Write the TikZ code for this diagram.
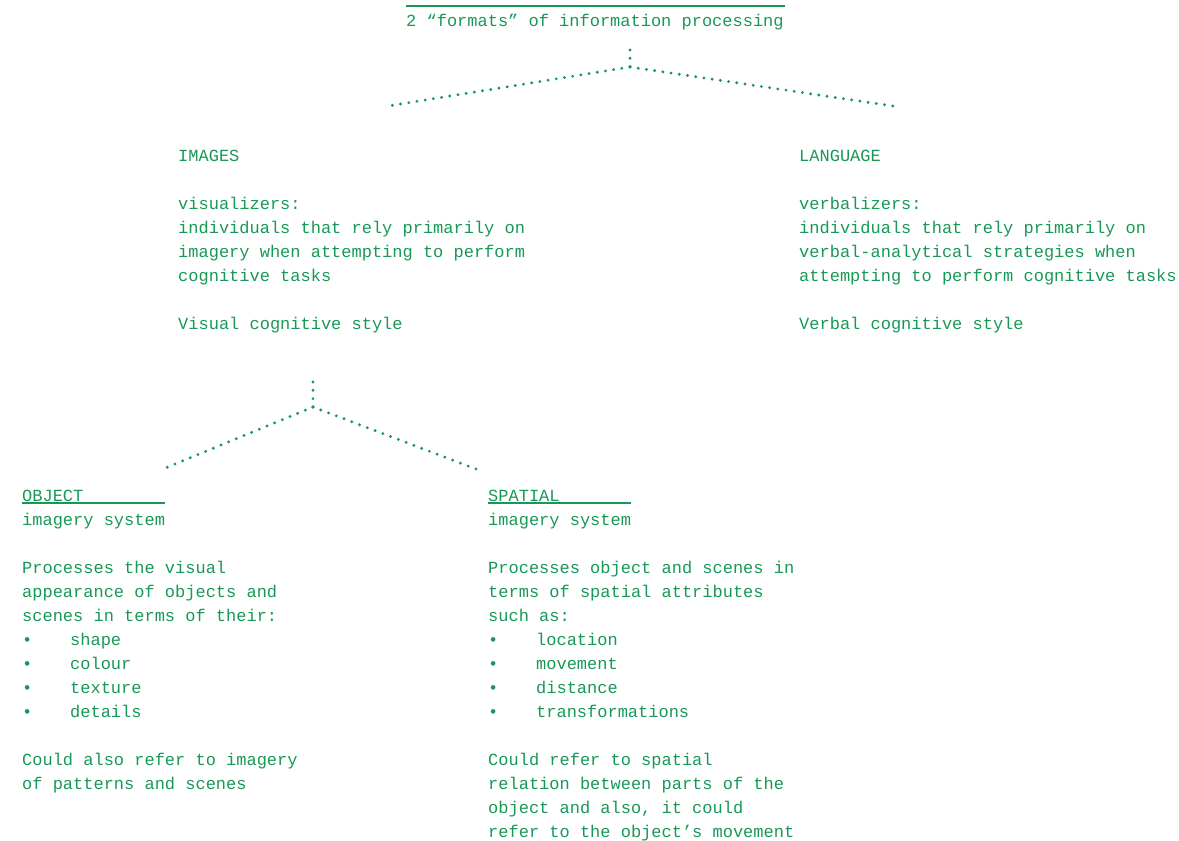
\documentclass[tikz,border=0pt]{standalone}
\usepackage{fontspec}
\setmainfont{Liberation Mono}
\definecolor{ink}{RGB}{24,152,86}
\newcommand\fl{\rule{0pt}{18pt}}

\begin{document}
\begin{tikzpicture}[x=1pt,y=-1pt]
    \tikzstyle{txt}=[anchor=north west,inner sep=0pt,align=left,text=ink,font=\fontsize{17}{24}\selectfont]
    \tikzstyle{dots}=[ink,line width=3.2pt,line cap=round,dash pattern=on 0pt off 8.3pt]
    \tikzstyle{rule}=[ink,line width=1.1pt]

    \useasboundingbox (0,0) rectangle (1179,841);

    % Title
    \draw [rule] (406,6) -- (785,6);
    \node [txt] (title) at (406,8) {\fl 2 “formats” of information processing};

    % First split
    \coordinate (top stub) at (630,50);
    \coordinate (top hub) at (630,67);
    \coordinate (images end) at (388,106);
    \coordinate (lang end) at (893,106);
    \draw [dots] (top stub) -- (top hub);
    \draw [dots] (top hub) -- (images end);
    \draw [dots] (top hub) -- (lang end);

    \node [txt] (images) at (178,143) {\fl IMAGES\\[24pt]
        visualizers:\\
        individuals that rely primarily on\\
        imagery when attempting to perform\\
        cognitive tasks\\[24pt]
        Visual cognitive style};

    \node [txt] (language) at (799,143) {\fl LANGUAGE\\[24pt]
        verbalizers:\\
        individuals that rely primarily on\\
        verbal-analytical strategies when\\
        attempting to perform cognitive tasks\\[24pt]
        Verbal cognitive style};

    % Second split
    \coordinate (img stub) at (313,382);
    \coordinate (img hub) at (313,407);
    \coordinate (object end) at (163,469);
    \coordinate (spatial end) at (476,469);
    \draw [dots] (img stub) -- (img hub);
    \draw [dots] (img hub) -- (object end);
    \draw [dots] (img hub) -- (spatial end);

    \node [txt] (object) at (22,483) {\fl OBJECT\\
        imagery system\\[24pt]
        Processes the visual\\
        appearance of objects and\\
        scenes in terms of their:\\
        \makebox[48pt][l]{•}shape\\
        \makebox[48pt][l]{•}colour\\
        \makebox[48pt][l]{•}texture\\
        \makebox[48pt][l]{•}details\\[24pt]
        Could also refer to imagery\\
        of patterns and scenes};
    \draw [rule] (22,503) -- (165,503);

    \node [txt] (spatial) at (488,483) {\fl SPATIAL\\
        imagery system\\[24pt]
        Processes object and scenes in\\
        terms of spatial attributes\\
        such as:\\
        \makebox[48pt][l]{•}location\\
        \makebox[48pt][l]{•}movement\\
        \makebox[48pt][l]{•}distance\\
        \makebox[48pt][l]{•}transformations\\[24pt]
        Could refer to spatial\\
        relation between parts of the\\
        object and also, it could\\
        refer to the object’s movement};
    \draw [rule] (488,503) -- (631,503);
\end{tikzpicture}
\end{document}
